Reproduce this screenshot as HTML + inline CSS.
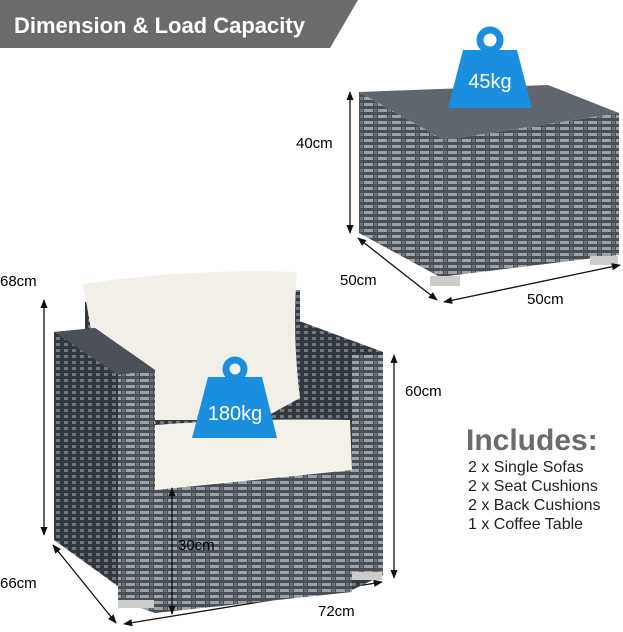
<!DOCTYPE html>
<html><head><meta charset="utf-8"><style>
body{margin:0;background:#fff;width:623px;height:627px;overflow:hidden;font-family:"Liberation Sans",sans-serif}
</style></head><body>
<svg width="623" height="627" viewBox="0 0 623 627" xmlns="http://www.w3.org/2000/svg">
<defs>
<pattern id="wk" width="14" height="6" patternUnits="userSpaceOnUse">
<rect width="14" height="6" fill="#4a4f55"/>
<rect x="0" y="1" width="9" height="3" fill="#9aa2aa"/>
<rect x="10" y="1" width="3" height="3" fill="#6b737b"/>
</pattern>
<pattern id="wkd" width="8" height="6" patternUnits="userSpaceOnUse">
<rect width="8" height="6" fill="#33383e"/>
<rect x="0" y="1" width="4" height="3" fill="#6f777f"/>
</pattern>
<marker id="ar" viewBox="0 0 10 10" refX="9" refY="5" markerWidth="7" markerHeight="7" orient="auto-start-reverse">
<path d="M0,1 L10,5 L0,9Z" fill="#111"/></marker>
</defs>
<polygon points="0,0 358,0 330,48 0,48" fill="#6b6b6b"/>
<text x="14" y="33" font-size="22" font-weight="bold" fill="#fff">Dimension &amp; Load Capacity</text>

<!-- coffee table -->
<polygon points="359,92 444,140 440,277 359,233" fill="url(#wk)"/>
<polygon points="444,140 619,113 619,255 440,277" fill="url(#wk)"/>
<polygon points="359,92 548,85 619,113 444,140" fill="#5f666d"/>
<rect x="430" y="276" width="30" height="10" fill="#ccc"/>
<rect x="590" y="256" width="28" height="9" fill="#ccc"/>
<!-- weight 45 -->
<circle cx="490" cy="40" r="10" fill="none" stroke="#1a8fe0" stroke-width="7"/>
<polygon points="463,50 517,50 532,108 448,108" fill="#1a8fe0"/>
<text x="490" y="88" font-size="20" fill="#fff" text-anchor="middle">45kg</text>

<!-- dimension lines -->
<g stroke="#111" stroke-width="1.3" fill="none">
<line x1="350" y1="92" x2="350" y2="233" marker-start="url(#ar)" marker-end="url(#ar)"/>
<line x1="358" y1="238" x2="437" y2="300" marker-start="url(#ar)" marker-end="url(#ar)"/>
<line x1="444" y1="302" x2="620" y2="265" marker-start="url(#ar)" marker-end="url(#ar)"/>
<line x1="44" y1="300" x2="44" y2="535" marker-start="url(#ar)" marker-end="url(#ar)"/>
<line x1="394" y1="355" x2="394" y2="578" marker-start="url(#ar)" marker-end="url(#ar)"/>
<line x1="53" y1="545" x2="116" y2="623" marker-start="url(#ar)" marker-end="url(#ar)"/>
<line x1="124" y1="624" x2="382" y2="582" marker-start="url(#ar)" marker-end="url(#ar)"/>
</g>
<text x="296" y="148" font-size="15">40cm</text>
<text x="340" y="285" font-size="15">50cm</text>
<text x="527" y="304" font-size="15">50cm</text>
<text x="0" y="286" font-size="15">68cm</text>
<text x="405" y="396" font-size="15">60cm</text>
<text x="0" y="588" font-size="15">66cm</text>
<text x="318" y="616" font-size="15">72cm</text>

<!-- sofa -->
<polygon points="85,302 300,290 300,470 85,470" fill="url(#wkd)"/>
<polygon points="283,315 383,352 383,575 352,590 352,470 283,420" fill="url(#wkd)"/>
<polygon points="352,355 383,355 383,575 352,580" fill="url(#wk)"/>
<path d="M83,284 Q190,268 297,272 Q292,335 300,398 L260,420 L105,420 Q95,350 83,284Z" fill="#f2efe8"/>
<polygon points="54,332 95,328 155,370 155,613 54,540" fill="url(#wkd)"/>
<polygon points="54,332 95,328 155,370 118,375" fill="#4b5157"/>
<polygon points="118,375 155,370 155,613 118,600" fill="url(#wk)"/>
<path d="M155,425 Q250,418 350,420 L352,470 Q250,478 155,490Z" fill="#f4f1ea"/>
<polygon points="155,490 352,470 352,592 155,613" fill="url(#wk)"/>
<rect x="118" y="600" width="36" height="8" fill="#ccc"/>
<rect x="352" y="572" width="30" height="8" fill="#ccc"/>
<line x1="172" y1="488" x2="172" y2="614" stroke="#111" stroke-width="1.3" marker-start="url(#ar)" marker-end="url(#ar)"/>
<text x="178" y="550" font-size="15">30cm</text>
<!-- weight 180 -->
<circle cx="235" cy="369" r="9" fill="none" stroke="#1a8fe0" stroke-width="7"/>
<polygon points="208,377 262,377 277,438 192,438" fill="#1a8fe0"/>
<text x="235" y="420" font-size="20" fill="#fff" text-anchor="middle">180kg</text>

<text x="466" y="450" font-size="30" font-weight="bold" fill="#6b6b6b">Includes:</text>
<g font-size="16" fill="#222">
<text x="468" y="472">2 x Single Sofas</text>
<text x="468" y="491">2 x Seat Cushions</text>
<text x="468" y="510">2 x Back Cushions</text>
<text x="468" y="529">1 x Coffee Table</text>
</g>
</svg>
</body></html>
